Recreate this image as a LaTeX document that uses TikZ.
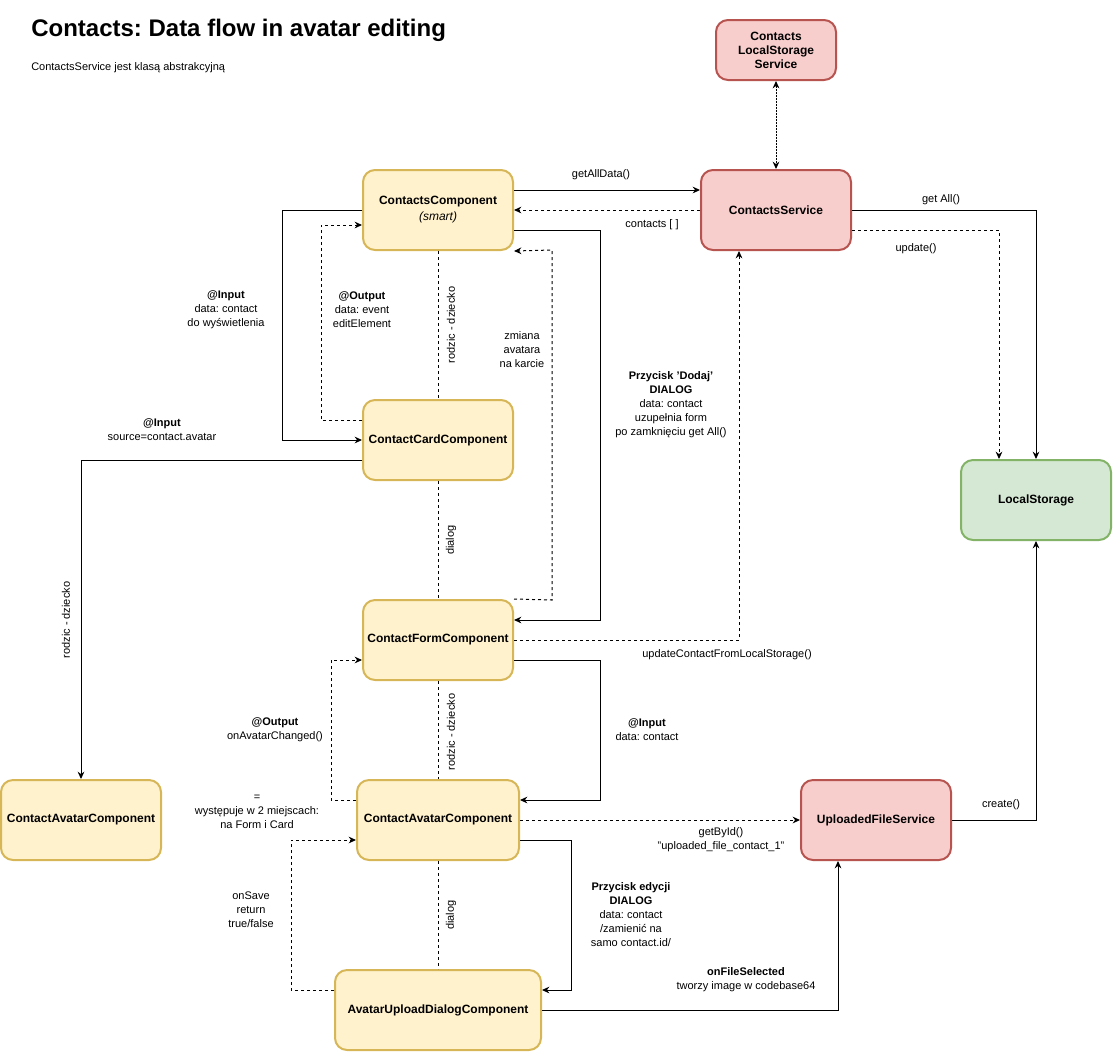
\documentclass[tikz,border=0pt]{standalone}
\usepackage{fontspec}
\setmainfont{Liberation Sans}
\usetikzlibrary{arrows.meta}
\frenchspacing
\definecolor{yfill}{HTML}{FFF2CC}
\definecolor{ydraw}{HTML}{D6B656}
\definecolor{rfill}{HTML}{F8CECC}
\definecolor{rdraw}{HTML}{B85450}
\definecolor{gfill}{HTML}{D5E8D4}
\definecolor{gdraw}{HTML}{82B366}
\tikzset{
  box/.style={rounded corners=9pt, line width=1.5pt, minimum height=60pt, minimum width=112.5pt,
    align=center, inner sep=0pt, font=\fontsize{9}{10.5}\selectfont\bfseries},
  ybox/.style={box, fill=yfill, draw=ydraw},
  rbox/.style={box, fill=rfill, draw=rdraw},
  gbox/.style={box, fill=gfill, draw=gdraw},
  con/.style={line width=0.75pt, -{Stealth[length=5.5pt,width=5pt]}},
  plain/.style={line width=0.75pt},
  dsh/.style={dash pattern=on 2.25pt off 2.25pt},
  dot/.style={dash pattern=on 1.5pt off 0.75pt},
  lbl/.style={font=\fontsize{8.25}{10.5}\selectfont, align=center, inner sep=0pt},
  ttl/.style={font=\fontsize{18}{21}\selectfont\bfseries, inner sep=0pt},
}
\begin{document}
\begin{tikzpicture}[x=0.75pt,y=-0.75pt]
\useasboundingbox (0,0) rectangle (1113,1051);

% title
\node[ttl, anchor=west] (title) at (31,30) {Contacts: Data flow in avatar editing};
\node[lbl, anchor=west] (sub) at (31,68) {ContactsService jest klasą abstrakcyjną};

% nodes
\node[rbox, minimum width=90pt, minimum height=45pt] (cls) at (776,50) {Contacts\\LocalStorage\\Service};
\node[ybox] (cc) at (438,210) {ContactsComponent\\[1.5pt]{\mdseries\itshape (smart)}};
\node[rbox] (cs) at (776,210) {ContactsService};
\node[ybox] (card) at (438,440) {ContactCardComponent};
\node[gbox] (ls) at (1036,500) {LocalStorage};
\node[ybox] (form) at (438,640) {ContactFormComponent};
\node[ybox, minimum width=120pt] (avl) at (81,820) {ContactAvatarComponent};
\node[ybox, minimum width=121.5pt] (av) at (438,820) {ContactAvatarComponent};
\node[rbox] (ufs) at (876,820) {UploadedFileService};
\node[ybox, minimum width=154.5pt] (dlg) at (438,1010) {AvatarUploadDialogComponent};

% connectors
\draw[con] (cc.east |- 0,190) -- (cs.west |- 0,190);
\draw[con, dsh] (cs.west) -- (cc.east);
\draw[con] (cc.east |- 0,230) -- (600,230) -- (600,620) -- (form.east |- 0,620);
\draw[con, dsh] (form.north east) -- (552,600) -- (552,250) -- (cc.south east);
\draw[con, dsh] (form.east) -- (739,640) -- (cs.south -| 739,0);
\draw[con, dot, {Stealth[length=5.5pt,width=5pt]}-{Stealth[length=5.5pt,width=5pt]}] (cls.south) -- (cs.north);
\draw[con] (cs.east) -| (ls.north);
\draw[con, dsh] (cs.east |- 0,230) -| (ls.north -| 999,0);

\draw[con] (cc.west) -- (282,210) -- (282,440) -- (card.west);
\draw[con, dsh] (card.west |- 0,420) -- (321,420) -- (321,225) -- (cc.west |- 0,225);
\draw[plain, dsh] (cc.south) -- (card.north);
\draw[plain, dsh] (card.south) -- (form.north);
\draw[con] (card.west |- 0,460) -| (avl.north);

\draw[plain, dsh] (form.south) -- (av.north);
\draw[con, dsh] (av.west |- 0,800) -- (331,800) -- (331,660) -- (form.west |- 0,660);
\draw[con] (form.east |- 0,660) -- (600,660) -- (600,800) -- (av.east |- 0,800);
\draw[con, dsh] (av.east) -- (ufs.west);
\draw[con] (av.east |- 0,840) -- (571,840) -- (571,990) -- (dlg.east |- 0,990);
\draw[plain, dsh] (av.south) -- (dlg.north);
\draw[con, dsh] (dlg.west |- 0,990) -- (291,990) -- (291,840) -- (av.west |- 0,840);
\draw[con] (dlg.east) -| (ufs.south -| 838,0);
\draw[con] (ufs.east) -| (ls.south);

% labels
\node[lbl] (lgad) at (601,175) {getAllData()};
\node[lbl] (lcon) at (652,225) {contacts [ ]};
\node[lbl] (lga) at (941,200) {get All()};
\node[lbl] (lupd) at (916,249) {update()};
\node[lbl] (lzm) at (522,350) {zmiana\\avatara\\na karcie};
\node[lbl] (ldod) at (671,405) {\bfseries Przycisk 'Dodaj'\\\bfseries DIALOG\\data: contact\\uzupełnia form\\po zamknięciu get All()};
\node[lbl] (lin1) at (226,310) {\bfseries @Input\\data: contact\\do wyświetlenia};
\node[lbl] (lout1) at (362,310) {\bfseries @Output\\data: event\\editElement};
\node[lbl, rotate=90] (lrd1) at (451,325) {rodzic - dziecko};
\node[lbl, rotate=90] (ldl1) at (451,540) {dialog};
\node[lbl] (lin2) at (162,430) {\bfseries @Input\\source=contact.avatar};
\node[lbl, rotate=90] (lrd2) at (66,620) {rodzic - dziecko};
\node[lbl] (lucf) at (727,655) {updateContactFromLocalStorage()};
\node[lbl, rotate=90] (lrd3) at (451,732) {rodzic - dziecko};
\node[lbl] (lout2) at (275,730) {\bfseries @Output\\onAvatarChanged()};
\node[lbl] (lin3) at (647,730) {\bfseries @Input\\data: contact};
\node[lbl] (leq) at (257,812) {=\\występuje w 2 miejscach:\\na Form i Card};
\node[lbl] (lcr) at (1001,805) {create()};
\node[lbl] (lgid) at (721,840) {getById()\\"uploaded\_file\_contact\_1"};
\node[lbl] (led) at (631,915) {\bfseries Przycisk edycji\\\bfseries DIALOG\\data: contact\\/zamienić na\\samo contact.id/};
\node[lbl, rotate=90] (ldl2) at (451,915) {dialog};
\node[lbl] (lsave) at (251,910) {onSave\\return\\true/false};
\node[lbl] (lfs) at (746,980) {\bfseries onFileSelected\\tworzy image w codebase64};
\end{tikzpicture}
\end{document}
